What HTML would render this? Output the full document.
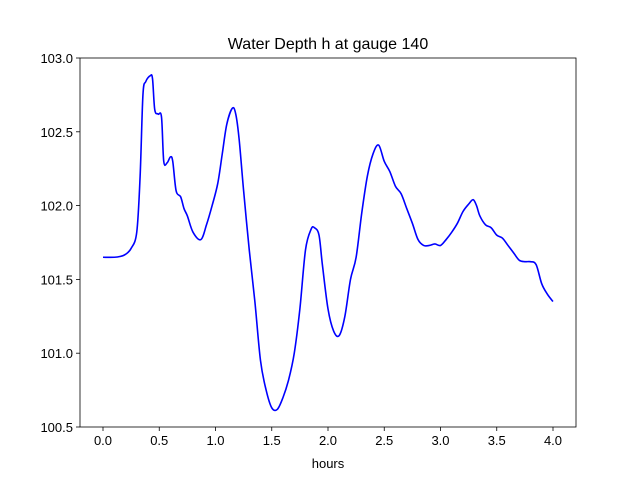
<!DOCTYPE html>
<html><head><meta charset="utf-8"><style>
body{margin:0;background:#fff;}
svg{display:block;font-family:"Liberation Sans",sans-serif;}
</style></head><body>
<svg id="chart" width="640" height="480">
<rect x="0" y="0" width="640" height="480" fill="#fff"/>
<text x="328" y="49" font-size="16" text-anchor="middle">Water Depth h at gauge 140</text>
<g id="axes"></g>
<text x="328" y="468" font-size="13" text-anchor="middle">hours</text>
</svg>
<script>
const hours = [0,0.1,0.15,0.2,0.25,0.3,0.33,0.355,0.38,0.42,0.44,0.46,0.49,0.52,0.54,0.57,0.6,0.62,0.65,0.69,0.72,0.75,0.8,0.87,0.92,0.97,1.02,1.06,1.1,1.15,1.18,1.21,1.25,1.3,1.35,1.4,1.45,1.5,1.55,1.6,1.65,1.7,1.75,1.8,1.85,1.88,1.92,1.95,2.0,2.05,2.1,2.15,2.2,2.25,2.3,2.35,2.4,2.45,2.5,2.55,2.6,2.65,2.7,2.75,2.8,2.85,2.9,2.95,3.0,3.05,3.1,3.15,3.2,3.25,3.29,3.32,3.35,3.4,3.45,3.5,3.55,3.6,3.65,3.7,3.75,3.8,3.85,3.9,3.95,4.0];
const depth = [101.65,101.65,101.655,101.67,101.71,101.82,102.2,102.75,102.84,102.88,102.86,102.65,102.62,102.6,102.3,102.29,102.33,102.3,102.1,102.06,101.98,101.93,101.82,101.77,101.87,102.0,102.15,102.35,102.55,102.66,102.62,102.45,102.1,101.7,101.35,100.95,100.75,100.63,100.62,100.7,100.82,101.0,101.3,101.7,101.84,101.85,101.8,101.6,101.3,101.15,101.12,101.25,101.5,101.65,101.95,102.2,102.35,102.41,102.3,102.23,102.13,102.08,101.98,101.88,101.77,101.73,101.73,101.74,101.73,101.77,101.82,101.88,101.96,102.01,102.04,102.0,101.93,101.87,101.85,101.8,101.78,101.73,101.68,101.63,101.62,101.62,101.6,101.47,101.4,101.35];
const xTicks = [0,0.5,1,1.5,2,2.5,3,3.5,4];
const xTickLabels = ["0.0","0.5","1.0","1.5","2.0","2.5","3.0","3.5","4.0"];
const yTicks = [100.5,101,101.5,102,102.5,103];
const yTickLabels = ["100.5","101.0","101.5","102.0","102.5","103.0"];

const L=80,R=576,T=58,B=427;
const xs=v=>103+v*112.5;
const ys=v=>B-(v-100.5)/(103-100.5)*(B-T);
const NS="http://www.w3.org/2000/svg";
const g=document.getElementById('axes');
function mk(tag,attrs){const e=document.createElementNS(NS,tag);for(const k in attrs)e.setAttribute(k,attrs[k]);g.appendChild(e);return e;}

xTicks.forEach((t,i)=>{
  const l=mk('line',{x1:xs(t),x2:xs(t),y1:B,y2:B+4,stroke:'#000','stroke-width':0.8});
  
  
  const tx=mk('text',{x:xs(t),y:B+18,'font-size':13,'text-anchor':'middle'});
  tx.textContent=xTickLabels[i];
  
  
});
yTicks.forEach((t,i)=>{
  const l=mk('line',{x1:L-4,x2:L,y1:ys(t),y2:ys(t),stroke:'#000','stroke-width':0.8});
  
  
  const tx=mk('text',{x:L-7,y:ys(t)+5,'font-size':13,'text-anchor':'end'});
  tx.textContent=yTickLabels[i];
  
  
});
const pts=hours.map((h,i)=>[xs(h),ys(depth[i])]);
let d='M'+pts[0][0]+','+pts[0][1];
for(let i=0;i<pts.length-1;i++){
  const p0=pts[Math.max(0,i-1)],p1=pts[i],p2=pts[i+1],p3=pts[Math.min(pts.length-1,i+2)];
  const c1=[p1[0]+(p2[0]-p0[0])/6,p1[1]+(p2[1]-p0[1])/6];
  const c2=[p2[0]-(p3[0]-p1[0])/6,p2[1]-(p3[1]-p1[1])/6];
  d+=' C'+c1+' '+c2+' '+p2;
}
const line=mk('path',{d:d,fill:'none',stroke:'#0000ff','stroke-width':1.6});


const frame=mk('rect',{x:L,y:T,width:R-L,height:B-T,fill:'none',stroke:'#000','stroke-width':0.8});


</script>
</body></html>
